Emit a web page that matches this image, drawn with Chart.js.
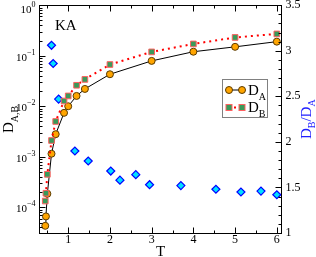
<!DOCTYPE html>
<html>
<head>
<meta charset="utf-8">
<script src="https://cdn.jsdelivr.net/npm/chart.js@4/dist/chart.umd.min.js"></script>
<style>
    html, body { margin: 0; padding: 0; background: #ffffff; }
    canvas { display: block; }
</style>
</head>
<body>
<canvas id="chartCanvas" width="316" height="257"></canvas>
<script>
// temperatures and diffusion coefficients
const tempA = [0.45, 0.466, 0.5, 0.6, 0.7, 0.9, 1.0, 1.2, 1.4, 2.0, 3.0, 4.0, 5.0, 6.0];
const diffA = [4.3e-5, 6.6e-5, 1.85e-4, 1.15e-3, 2.8e-3, 7.4e-3, 1.0e-2, 1.6e-2, 2.2e-2, 4.3e-2, 7.9e-2, 0.12, 0.15, 0.19];

const tempB = [0.45, 0.466, 0.5, 0.6, 0.7, 0.9, 1.0, 1.2, 1.4, 2.0, 3.0, 4.0, 5.0, 6.0];
const diffB = [1.33e-4, 1.9e-4, 4.5e-4, 2.1e-3, 5.0e-3, 1.27e-2, 1.6e-2, 2.6e-2, 3.4e-2, 6.7e-2, 0.119, 0.171, 0.23, 0.27];

const tempRatio = [0.6, 0.64, 0.77, 1.16, 1.48, 2.02, 2.24, 2.62, 2.95, 3.7, 4.54, 5.14, 5.62, 6.0];
const ratioBA = [3.06, 2.86, 2.47, 1.90, 1.79, 1.68, 1.58, 1.64, 1.53, 1.52, 1.48, 1.45, 1.46, 1.42];

const xTicks = [1, 2, 3, 4, 5, 6];
const logExponents = [-4, -3, -2, -1, 0];
const ratioTicks = [1, 1.5, 2, 2.5, 3, 3.5];

const SERIF = "'Liberation Serif', 'DejaVu Serif', serif";

function toPoints(xs, ys) {
    return xs.map((x, i) => ({ x: x, y: ys[i] }));
}

function drawSub(ctx, main, sub, x, y, size, subSize, align) {
    ctx.font = `${size}px ${SERIF}`;
    const w1 = ctx.measureText(main).width;
    ctx.font = `${subSize}px ${SERIF}`;
    const w2 = ctx.measureText(sub).width;
    let start = x;
    if (align === 'center') start = x - (w1 + w2) / 2;
    ctx.textAlign = 'left';
    ctx.textBaseline = 'alphabetic';
    ctx.font = `${size}px ${SERIF}`;
    ctx.fillText(main, start, y);
    ctx.font = `${subSize}px ${SERIF}`;
    ctx.fillText(sub, start + w1, y + size * 0.3);
}

const framePlugin = {
    id: 'frame',
    afterDraw(chart) {
        const ctx = chart.ctx;
        const area = chart.chartArea;
        const xs = chart.scales.x;
        const ys = chart.scales.y;
        const rs = chart.scales.y2;
        const L = Math.round(area.left) + 0.5;
        const R = Math.round(area.right) + 0.5;
        const T = Math.round(area.top) + 0.5;
        const B = Math.round(area.bottom) + 0.5;

        ctx.save();
        ctx.strokeStyle = '#000000';
        ctx.lineWidth = 1;
        ctx.strokeRect(L, T, R - L, B - T);

        ctx.beginPath();
        // x ticks, bottom and top
        for (let v = 0.5; v <= 6; v += 0.5) {
            const px = Math.round(xs.getPixelForValue(v)) + 0.5;
            const len = Number.isInteger(v) ? 6 : 3;
            ctx.moveTo(px, B); ctx.lineTo(px, B - len);
            ctx.moveTo(px, T); ctx.lineTo(px, T + len);
        }
        // log ticks on the left
        for (let e = -5; e <= 0; e++) {
            for (let m = 1; m <= 9; m++) {
                const v = m * Math.pow(10, e);
                if (v < ys.min || v > ys.max) continue;
                const py = Math.round(ys.getPixelForValue(v)) + 0.5;
                const len = m === 1 ? 6 : 3;
                ctx.moveTo(L, py); ctx.lineTo(L + len, py);
            }
        }
        // ratio ticks on the right
        for (let i = 0; i <= 25; i++) {
            const v = 1 + i * 0.1;
            const py = Math.round(rs.getPixelForValue(v)) + 0.5;
            const len = i % 5 === 0 ? 6 : 3;
            ctx.moveTo(R, py); ctx.lineTo(R - len, py);
        }
        ctx.stroke();

        ctx.fillStyle = '#000000';
        ctx.font = `12px ${SERIF}`;
        ctx.textAlign = 'center';
        ctx.textBaseline = 'middle';
        xTicks.forEach(v => {
            ctx.fillText(String(v), xs.getPixelForValue(v), B + 6);
        });

        ctx.textAlign = 'left';
        ratioTicks.forEach(v => {
            ctx.fillText(String(v), R + 4, rs.getPixelForValue(v));
        });

        logExponents.forEach(e => {
            let py = ys.getPixelForValue(Math.pow(10, e)) + 2;
            if (py < 10) py = 10;
            ctx.font = `8px ${SERIF}`;
            const exp = e === 0 ? '0' : '\u2212' + Math.abs(e);
            const we = ctx.measureText(exp).width;
            ctx.textAlign = 'right';
            ctx.fillText(exp, L - 4, py - 5);
            ctx.font = `11px ${SERIF}`;
            ctx.fillText('10', L - 4 - we, py);
        });

        // axis titles
        ctx.textBaseline = 'alphabetic';
        ctx.font = `15px ${SERIF}`;
        ctx.textAlign = 'center';
        ctx.fillText('T', (L + R) / 2, 256);

        ctx.save();
        ctx.translate(13, (T + B) / 2);
        ctx.rotate(-Math.PI / 2);
        drawSub(ctx, 'D', 'A,B', 0, 0, 15, 10, 'center');
        ctx.restore();

        ctx.save();
        ctx.fillStyle = '#2020ff';
        ctx.translate(311, (T + B) / 2);
        ctx.rotate(-Math.PI / 2);
        ctx.font = `15px ${SERIF}`;
        const wD = ctx.measureText('D').width;
        ctx.font = `10px ${SERIF}`;
        const wSub = ctx.measureText('B').width;
        ctx.font = `15px ${SERIF}`;
        const wSl = ctx.measureText('/').width;
        const total = 2 * wD + 2 * wSub + wSl;
        let cx = -total / 2;
        ctx.textAlign = 'left';
        ctx.fillText('D', cx, 0); cx += wD;
        ctx.font = `10px ${SERIF}`;
        ctx.fillText('B', cx, 4); cx += wSub;
        ctx.font = `15px ${SERIF}`;
        ctx.fillText('/', cx, 0); cx += wSl;
        ctx.fillText('D', cx, 0); cx += wD;
        ctx.font = `10px ${SERIF}`;
        ctx.fillText('A', cx, 4);
        ctx.restore();

        // KA label
        ctx.fillStyle = '#000000';
        ctx.font = `15px ${SERIF}`;
        ctx.textAlign = 'left';
        ctx.fillText('KA', 55, 30);

        // legend
        ctx.fillStyle = '#ffffff';
        ctx.fillRect(222.5, 79.5, 45, 38);
        ctx.strokeStyle = '#808080';
        ctx.strokeRect(222.5, 79.5, 45, 38);

        ctx.strokeStyle = '#000000';
        ctx.beginPath();
        ctx.moveTo(229, 90); ctx.lineTo(242, 90);
        ctx.stroke();
        [229, 242].forEach(px => {
            ctx.beginPath();
            ctx.arc(px, 90, 3.5, 0, Math.PI * 2);
            ctx.fillStyle = '#ffa500';
            ctx.fill();
            ctx.strokeStyle = '#5a3a00';
            ctx.stroke();
        });

        ctx.strokeStyle = '#ff0000';
        ctx.lineWidth = 2;
        ctx.setLineDash([2, 3]);
        ctx.beginPath();
        ctx.moveTo(229, 107.5); ctx.lineTo(242, 107.5);
        ctx.stroke();
        ctx.setLineDash([]);
        ctx.lineWidth = 1;
        [229, 242].forEach(px => {
            ctx.fillStyle = '#3a9a5a';
            ctx.fillRect(px - 3, 104.5, 6, 6);
            ctx.strokeStyle = '#ff6060';
            ctx.strokeRect(px - 3, 104.5, 6, 6);
        });

        ctx.fillStyle = '#000000';
        drawSub(ctx, 'D', 'A', 248, 95, 15, 10, 'left');
        drawSub(ctx, 'D', 'B', 248, 112, 15, 10, 'left');
        ctx.restore();
    }
};

const ctx = document.getElementById('chartCanvas').getContext('2d');
const chart = new Chart(ctx, {
    type: 'line',
    data: {
        datasets: [
            {
                label: 'D_B',
                data: toPoints(tempB, diffB),
                yAxisID: 'y',
                borderColor: '#ff0000',
                borderWidth: 2,
                borderDash: [2, 4],
                pointStyle: 'rect',
                pointRadius: 4,
                pointBackgroundColor: '#3a9a5a',
                pointBorderColor: '#ff6060',
                pointBorderWidth: 1,
                fill: false
            },
            {
                label: 'D_A',
                data: toPoints(tempA, diffA),
                yAxisID: 'y',
                borderColor: '#000000',
                borderWidth: 1,
                pointStyle: 'circle',
                pointRadius: 3.5,
                pointBackgroundColor: '#ffa500',
                pointBorderColor: '#5a3a00',
                pointBorderWidth: 1,
                fill: false
            },
            {
                label: 'D_B/D_A',
                data: toPoints(tempRatio, ratioBA),
                yAxisID: 'y2',
                showLine: false,
                pointStyle: 'rectRot',
                pointRadius: 4,
                pointBackgroundColor: '#00e0ff',
                pointBorderColor: '#0000ff',
                pointBorderWidth: 1.2
            }
        ]
    },
    options: {
        responsive: false,
        devicePixelRatio: 1,
        animation: false,
        layout: {
            padding: { left: 39, right: 35, top: 5, bottom: 24 }
        },
        plugins: {
            legend: { display: false },
            tooltip: { enabled: false }
        },
        scales: {
            x: { type: 'linear', min: 0.3, max: 6.1, display: false },
            y: { type: 'logarithmic', min: 3.1e-5, max: 1, display: false },
            y2: { type: 'linear', min: 1, max: 3.5, display: false, position: 'right' }
        }
    },
    plugins: [framePlugin]
});
</script>
</body>
</html>
